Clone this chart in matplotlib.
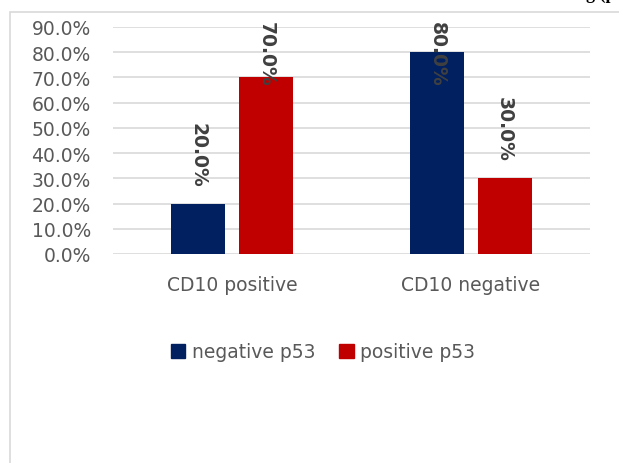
import numpy as np
import matplotlib.pyplot as plt
from matplotlib.patches import Rectangle
from matplotlib.ticker import FuncFormatter

plt.rcParams['font.family'] = ['DejaVu Sans']

# share of cases per p53 status within each CD10 group
categories = ['CD10 positive', 'CD10 negative']
series_names = ['negative p53', 'positive p53']
negative_p53 = [0.20, 0.80]
positive_p53 = [0.70, 0.30]
colors = ['#002060', '#C00000']
yticks = [0.0, 0.1, 0.2, 0.3, 0.4, 0.5, 0.6, 0.7, 0.8, 0.9]

fig = plt.figure(figsize=(6.19, 4.64), dpi=100)
W, H = 619, 464

# chart frame, cut off on the right and at the bottom
fig.patches.append(Rectangle((10 / W, -0.1), 1.0, 1 - 13 / H + 0.1,
                             transform=fig.transFigure, fill=False,
                             edgecolor='#D9D9D9', linewidth=1.2))
# bottom of a heading line from the page above
fig.text(0.995, 1.0 + 14 / H, 'ng (p', ha='right', va='top', fontsize=13,
         fontweight='bold', family='Liberation Serif', color='#000000')

ax = fig.add_axes([113 / W, 1 - 255 / H, (590 - 113) / W, (255 - 28) / H])

x = np.arange(len(categories))
width = 0.226
offset = 0.142
bars = []
for i, (vals, name) in enumerate(zip([negative_p53, positive_p53], series_names)):
    b = ax.bar(x + (i * 2 - 1) * offset, vals, width, color=colors[i],
               label=name, zorder=3)
    bars.append(b)

ax.set_xlim(-0.5, 1.5)
ax.set_ylim(0, 0.9)
ax.set_yticks(yticks)
ax.yaxis.set_major_formatter(FuncFormatter(lambda v, p: f'{v * 100:.1f}%'))
ax.grid(axis='y', color='#D9D9D9', linewidth=1.2, zorder=0)
for s in ax.spines.values():
    s.set_visible(False)
ax.tick_params(axis='both', length=0, labelsize=13.5, labelcolor='#595959')
ax.tick_params(axis='y', pad=16)
ax.tick_params(axis='x', pad=15)
ax.set_xticks(x)
ax.set_xticklabels(categories)

# rotated value labels above each bar, held inside the plot top
px_per_unit = (255 - 28) / 0.9
for b in bars:
    for rect in b:
        v = rect.get_height()
        cx = rect.get_x() + rect.get_width() / 2
        end = v + 17 / px_per_unit
        top_limit = 0.9 + 8 / px_per_unit - 67 / px_per_unit
        if end > top_limit:
            end = top_limit
        ax.text(cx, end, f'{v * 100:.1f}%', rotation=-90, ha='center',
                va='bottom', fontsize=13.5, fontweight='bold', color='#404040',
                clip_on=False)

handles = [Rectangle((0, 0), 1, 1, color=c) for c in colors]
fig.legend(handles, series_names, loc='center', bbox_to_anchor=(323 / W, 1 - 353 / H),
           ncol=2, frameon=False, fontsize=13.5, labelcolor='#595959',
           handlelength=0.75, handleheight=0.75, handletextpad=0.35, columnspacing=1.3)

fig.savefig('out.png', dpi=100)
